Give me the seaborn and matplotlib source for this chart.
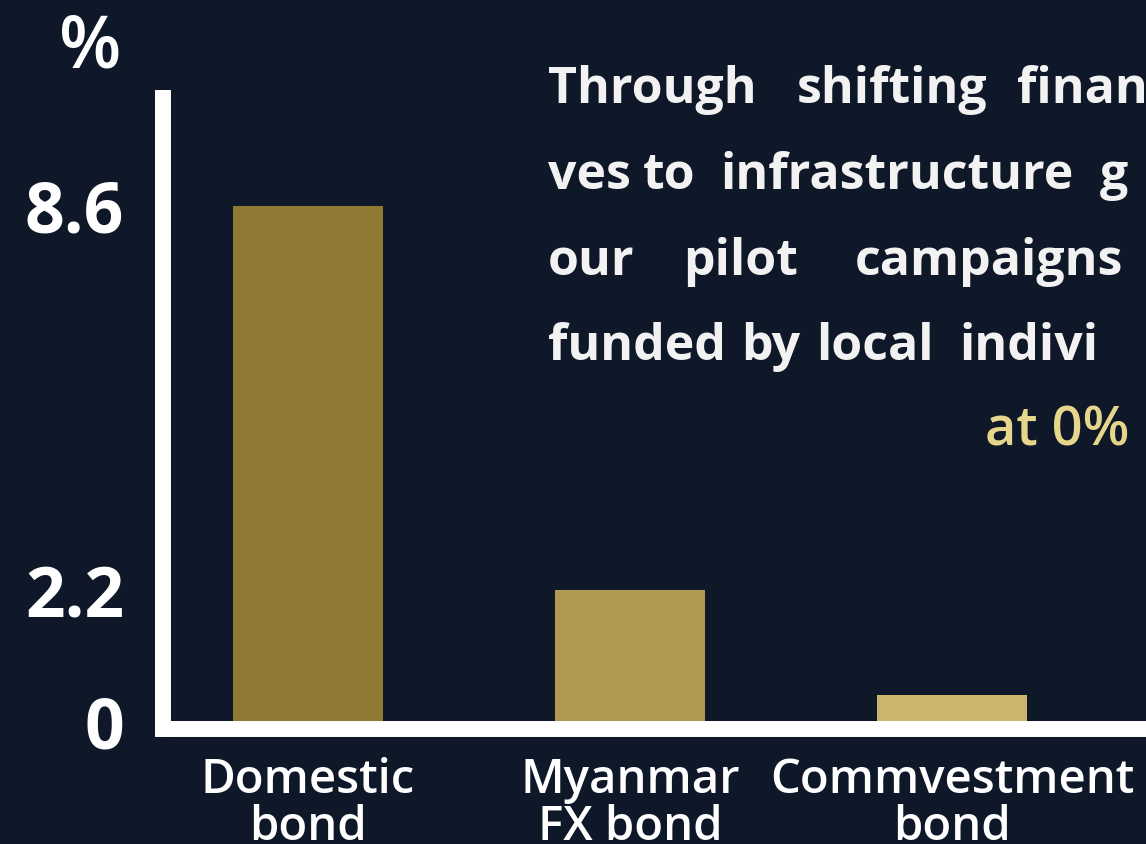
import matplotlib
matplotlib.use("Agg")
import matplotlib.pyplot as plt
import seaborn as sns
import pandas as pd

categories = ["Domestic\nbond", "Myanmar\nFX bond", "Commvestment\nbond"]
values = [8.6, 2.2, 0.45]
bar_colors = ["#8f7a33", "#b09a52", "#cbb56c"]
ytick_values = [0, 2.2, 8.6]
ytick_labels = ["0", "2.2", "8.6"]
# visible (cropped) part of the annotation, word by word
text_words = [
    ["Through", "shifting", "finan"],
    ["ves", "to", "infrastructure", "g"],
    ["our", "pilot", "campaigns"],
    ["funded", "by", "local", "indivi"],
]
highlight_text = "at 0%"

# layout (pixels)
word_x = [
    [548, 797, 1017],
    [548, 643, 720, 1100],
    [548, 683, 855],
    [548, 741, 816, 959],
]
line_baselines = [103, 189, 275, 360]

BG = "#0f1828"
sns.set_theme(style="white")
plt.rcParams["font.family"] = ["Open Sans", "DejaVu Sans"]

W, H = 1146, 844
fig = plt.figure(figsize=(W / 100, H / 100), dpi=100, facecolor=BG)

ax_left_px, ax_right_px = 163, 1200
ax_top_px, ax_bot_px = 98, 729
ax = fig.add_axes([ax_left_px / W, 1 - ax_bot_px / H,
                   (ax_right_px - ax_left_px) / W, (ax_bot_px - ax_top_px) / H])
ax.set_facecolor(BG)

df = pd.DataFrame({"cat": categories, "val": values})
sns.barplot(data=df, x="cat", y="val", hue="cat", palette=bar_colors,
            width=0.463, legend=False, ax=ax, saturation=1, zorder=1,
            linewidth=0, edgecolor="none")

px_per_unit = 60.0
zero_px = 722
ax.set_ylim(-(ax_bot_px - zero_px) / px_per_unit, (zero_px - ax_top_px) / px_per_unit)
ax.set_xlim((ax_left_px - 308) / 322, (ax_right_px - 308) / 322)

for s in ["top", "right"]:
    ax.spines[s].set_visible(False)
for s in ["left", "bottom"]:
    ax.spines[s].set_color("white")
    ax.spines[s].set_linewidth(11.5)
    ax.spines[s].set_zorder(3)
    ax.spines[s].set_capstyle("projecting")

ax.set_yticks(ytick_values)
ax.set_yticklabels(ytick_labels, fontsize=50, fontweight="bold", color="white")
ax.tick_params(axis="y", length=0, pad=28)
ax.tick_params(axis="x", length=0, pad=20)
for lbl in ax.get_xticklabels():
    lbl.set_fontsize(34)
    lbl.set_color("white")
    lbl.set_fontweight("semibold")
    lbl.set_linespacing(1.0)
ax.set_xlabel("")
ax.set_ylabel("")

fig.text(90 / W, 1 - 48 / H, "%", fontsize=52, fontweight="semibold", color="white",
         ha="center", va="center")

for words, xs, b in zip(text_words, word_x, line_baselines):
    for w, x in zip(words, xs):
        fig.text(x / W, 1 - b / H, w, fontsize=36, fontweight="bold",
                 color="#f2f2f2", ha="left", va="baseline")
fig.text(985 / W, 1 - 445 / H, highlight_text, fontsize=39, fontweight="semibold",
         color="#e6d68c", ha="left", va="baseline")

fig.savefig("out.png", dpi=100, facecolor=BG)
